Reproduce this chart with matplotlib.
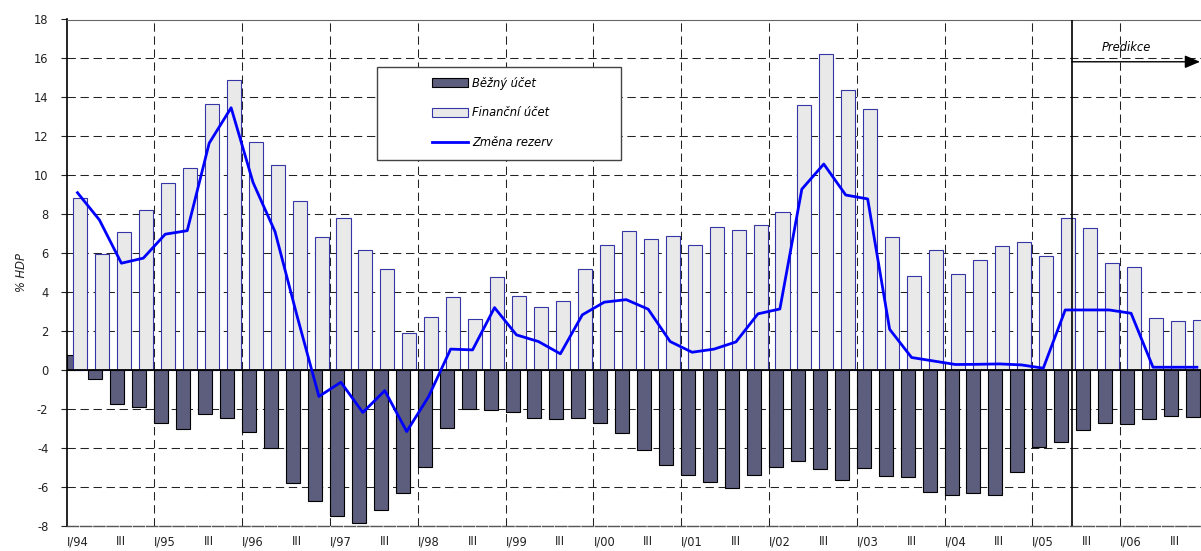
import matplotlib
matplotlib.use("Agg")
import matplotlib.pyplot as plt
import numpy as np
from matplotlib.patches import Rectangle

plt.rcParams["font.family"] = ["DejaVu Sans"]
plt.rcParams.update({"font.size": 8.3, "axes.unicode_minus": False})

# quarterly data I/94 .. IV/06
bezny_ucet = [0.78, -0.43, -1.75, -1.90, -2.72, -3.03, -2.23, -2.46,
              -3.20, -4.00, -5.80, -6.74, -7.48, -7.85, -7.17, -6.31,
              -4.95, -2.98, -1.97, -2.05, -2.17, -2.46, -2.52, -2.46,
              -2.72, -3.25, -4.12, -4.89, -5.39, -5.75, -6.07, -5.39,
              -4.95, -4.67, -5.05, -5.63, -5.00, -5.44, -5.49, -6.26,
              -6.40, -6.31, -6.41, -5.22, -3.95, -3.69, -3.08, -2.70,
              -2.77, -2.50, -2.34, -2.40]
financni_ucet = [8.86, 5.97, 7.11, 8.21, 9.61, 10.36, 13.68, 14.88,
                 11.73, 10.55, 8.69, 6.86, 7.83, 6.15, 5.18, 1.91,
                 2.73, 3.76, 2.62, 4.79, 3.80, 3.23, 3.54, 5.21,
                 6.40, 7.16, 6.72, 6.89, 6.45, 7.37, 7.21, 7.44,
                 8.11, 13.63, 16.24, 14.38, 13.42, 6.84, 4.82, 6.16,
                 4.92, 5.64, 6.36, 6.58, 5.86, 7.83, 7.28, 5.49,
                 5.28, 2.67, 2.51, 2.56]
zmena_rezerv = [9.11, 7.71, 5.49, 5.75, 6.98, 7.16, 11.65, 13.47,
                9.63, 7.11, 2.80, -1.35, -0.62, -2.17, -1.05, -3.15,
                -1.35, 1.08, 1.04, 3.21, 1.81, 1.47, 0.84, 2.84,
                3.49, 3.62, 3.13, 1.47, 0.92, 1.08, 1.45, 2.89,
                3.14, 9.29, 10.58, 8.99, 8.79, 2.10, 0.65, 0.47,
                0.29, 0.30, 0.32, 0.27, 0.10, 3.09, 3.09, 3.09,
                2.92, 0.15, 0.15, 0.15]
years = ["94", "95", "96", "97", "98", "99", "00", "01", "02", "03", "04", "05", "06"]
predikce_start = 45.8

x = np.arange(len(bezny_ucet))
tick_pos = []
tick_lab = []
for k, yr in enumerate(years):
    tick_pos += [4 * k + 0.5, 4 * k + 2.5]
    tick_lab += ["I/" + yr, "III"]

fig = plt.figure(figsize=(12.01, 5.51), dpi=100)
ax1 = fig.add_axes([66.5 / 1201, 25 / 551, 52 * 21.95 / 1201, 506.5 / 551])

b1 = ax1.bar(x + 0.32, bezny_ucet, width=0.64, color='#5d5d7d', edgecolor='black',
             linewidth=0.8, zorder=3, label='Běžný účet')
b2 = ax1.bar(x + 0.62, financni_ucet, width=0.64, color='#e9e9e9', edgecolor='#3535a5',
             linewidth=0.8, zorder=4, label='Finanční účet')
l1, = ax1.plot(x + 0.5, zmena_rezerv, '-', c='#0000ff', linewidth=2.0, zorder=6, label='Změna rezerv')

ax1.axhline(0, color='black', linewidth=1.3, zorder=5)
ax1.axvline(predikce_start, color='black', linewidth=1.2, zorder=5)

ax1.set_xlim([0, 52])
ax1.set_ylim([-8, 18])
ax1.set_yticks(np.arange(-8, 19, 2))
ax1.set_xticks(tick_pos)
ax1.set_xticklabels(tick_lab)
ax1.set_axisbelow(True)
ax1.yaxis.grid(True, color='#222222', linewidth=0.75, linestyle=(0, (8, 4.5)))
for xv in range(4, 52, 4):
    ax1.axvline(xv, color='#222222', linewidth=0.75, linestyle=(0, (8, 4.5)), zorder=1)

ax1.spines['right'].set_visible(False)
ax1.spines['bottom'].set_color('#555555')
ax1.spines['bottom'].set_linestyle((0, (8, 1.5)))
ax1.spines['bottom'].set_linewidth(1.0)
ax1.spines['top'].set_color('#666666')
ax1.spines['left'].set_linewidth(1.2)
ax1.tick_params(axis='y', direction='out', length=4, width=0.8, pad=9, colors='#222222')
ax1.tick_params(axis='x', length=0, pad=6.5, colors='#222222')
ax1.set_ylabel('% HDP', style='italic', labelpad=4, color='#222222')

ax1.text(48.3, 16.56, 'Predikce', style='italic', ha='center', va='center')
ax1.annotate('', xy=(51.64, 15.83), xytext=(predikce_start, 15.83),
             arrowprops=dict(arrowstyle='-|>,head_length=0.4,head_width=0.17', color='black',
                             lw=1.0, mutation_scale=23, shrinkA=0, shrinkB=0), zorder=7)

# legend box
fig.patches.append(Rectangle((376.7 / 1201, 1 - 160 / 551), 244.6 / 1201, 92.7 / 551,
                             transform=fig.transFigure, facecolor='white', edgecolor='#444444',
                             linewidth=1.0, zorder=1))
fig.legend([b1, b2, l1], ['Běžný účet', 'Finanční účet', 'Změna rezerv'],
           loc='center left', bbox_to_anchor=(432 / 1201, 1 - 112.8 / 551),
           frameon=False, handlelength=3.1, handleheight=0.9, handletextpad=0.4,
           labelspacing=1.45, borderpad=0, borderaxespad=0,
           prop={'style': 'italic', 'size': 8.3})

fig.savefig('out.png', dpi=100)
